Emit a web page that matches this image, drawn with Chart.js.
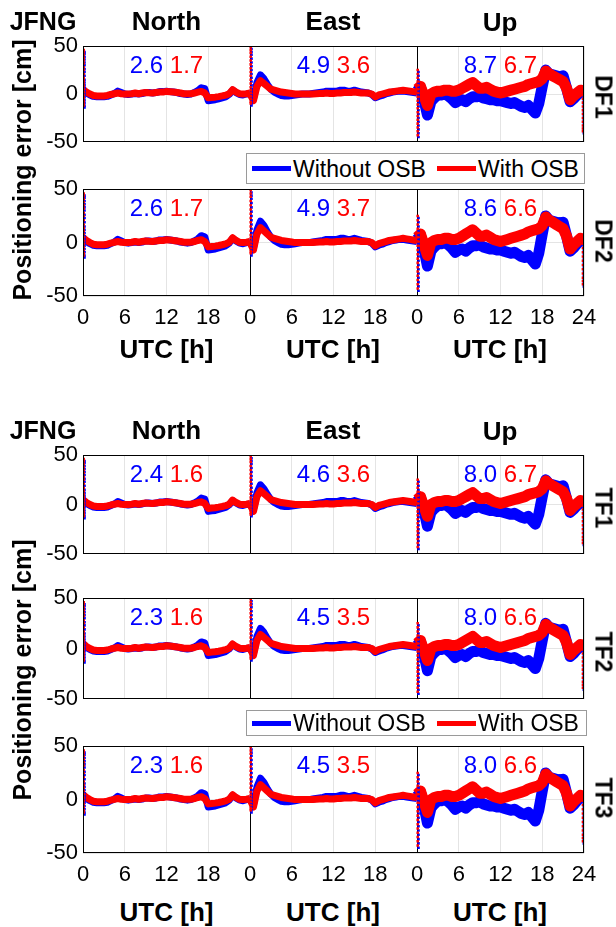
<!DOCTYPE html>
<html><head><meta charset="utf-8">
<script src="https://cdn.jsdelivr.net/npm/chart.js@4.4.1/dist/chart.umd.min.js"></script>
<style>
html,body{margin:0;padding:0;background:#fff;}
#fig{position:relative;width:616px;height:927px;overflow:hidden;font-family:"Liberation Sans",Arial,sans-serif;background:#fff;}
.t{position:absolute;transform:translate(-50%,-50%);white-space:nowrap;color:#000;line-height:1;}
.b{font-weight:bold;}
canvas{position:absolute;left:0;}
.legend{position:absolute;border:1px solid #9a9a9a;background:#fff;box-sizing:border-box;}
.legend .ln{position:absolute;height:5px;}
.legend .lt{position:absolute;font-size:23px;line-height:1;white-space:nowrap;transform:translateY(-50%);}
</style></head><body><div id="fig"></div>
<script>
// ---------------- data ----------------
const hours = [0,0.5,1,1.5,2,2.5,3,3.5,4,4.5,5,5.5,6,6.5,7,7.5,8,8.5,9,9.5,10,10.5,11,11.5,12,12.5,13,13.5,14,14.5,15,15.5,16,16.5,17,17.5,18,18.5,19,19.5,20,20.5,21,21.5,22,22.5,23,23.5,24];
const tickLabels = ['0','6','12','18','24'];
const components = ['North','East','Up'];
const rowNames = ['DF1','DF2','TF1','TF2','TF3'];

const northWithout = [3,1,-1,-2.5,-3,-3,-3,-2.5,-1,0.5,3,1.5,0,-0.5,0,0.5,0,0.5,1.5,1.5,1,1.5,2.5,2.5,3,2.5,2,1.5,0.5,0,-0.5,0,1.5,3.5,6.5,5.5,-7,-6.5,-6,-5,-4,-3,-0.5,4,1.5,-0.5,-1,0,0.5];
const northWith    = [5,2,0,-1.5,-2,-2,-2,-1.5,-0.5,0.3,1,0.3,0,0,0.3,1,0.3,1,1.5,1.2,1,1.5,2,2,2.7,2.4,2,1.5,1,0.3,0.3,0.3,1,2,2.7,1,-4,-3.6,-3.3,-2.7,-2,-1.2,0.3,4.5,2,0.3,0,0.3,1];
const eastWithout  = [0,-5,12,20,16,10,5,2,0,-1.5,-2,-2,-1.5,-1,-0.5,0,0,0,0.5,1,1.5,2,3,3,3,3,4,4,3,3,4,3,2,1.5,1,-0.5,-4,-2.5,-1.5,0,1,2,2.5,3,3,2.5,2,1.5,1];
const eastWith     = [0,-7,8,14,11,8,5,4,3,2,1.5,1,0.5,0,0,0,0,0,0,0.3,0.5,0.5,1,0.5,0.5,1,1,1.5,1.5,1.5,2,1.5,1,1,1,0,-3,-1,0,1,2,2.5,3,3.5,4,3.5,3,2.5,2];
const upWithout    = [3,7,-6,-22,-8,-4,-1,-1,0,-2,-5,-9,-7,-6,-8,-5,-3,-3,-2,-4,-5,-6,-6,-7,-7,-8,-9,-10,-9,-11,-13,-14,-12,-16,-20,-10,8,25,21,20,19,18,19,6,-8,-5,-1,2,1];
const upWith       = [5,8,-2,-12,0,2,3,3,4,4,3,3,4,6,8,10,12,9,6,6,7,5,3,2,1,2,3,4,5,6,7,8,10,11,12,13,16,24,21,19,17,15,13,6,-6,-2,1,4,3];

// outliers at the start of each day (and at the end of Up)
const spikeNorth   = [45,43,40,37,34,31,27,24,20,16,13,10,7,4,1,-2,-5,-8,-11,-13];
const spikeEast    = [48,45,42,38,34,30,26,22,18,14,10,6,3,0,-3,-6,-9,-11];
const spikeUpStart = [24,20,16,12,8,4,0,-4,-8,-12,-16,-20,-24,-28,-32,-36,-40,-44];
const spikeUpEnd   = [-2,-6,-10,-14,-18,-22,-26,-30,-34,-37,-40];

const rmsWithout = [[2.6,4.9,8.7],[2.6,4.9,8.6],[2.4,4.6,8.0],[2.3,4.5,8.0],[2.3,4.5,8.0]];
const rmsWith    = [[1.7,3.6,6.7],[1.7,3.7,6.6],[1.6,3.6,6.7],[1.6,3.5,6.6],[1.6,3.5,6.6]];

// ---------------- layout ----------------
const BLUE = '#0000ff', RED = '#ff0000';
const FONT = '"Liberation Sans", Arial, sans-serif';
const rows = [
  {top:42,  bottom:152, xlabels:false},
  {top:185, bottom:296, xlabels:true},
  {top:451, bottom:564, xlabels:false},
  {top:594, bottom:709, xlabels:false},
  {top:742, bottom:853, xlabels:true}
];
const fig = document.getElementById('fig');
function txt(s, x, y, size, bold, rot, color){
  const d = document.createElement('div');
  d.className = 't' + (bold ? ' b' : '');
  d.textContent = s;
  d.style.left = x + 'px'; d.style.top = y + 'px';
  d.style.fontSize = size + 'px';
  if (color) d.style.color = color;
  if (rot) d.style.transform = 'translate(-50%,-50%) rotate(' + rot + 'deg)';
  fig.appendChild(d);
}

const compSeries = [
  {without:northWithout, with:northWith, w:7, spikes:[{t:0.1, v:spikeNorth}]},
  {without:eastWithout,  with:eastWith,  w:7, spikes:[{t:0.1, v:spikeEast}]},
  {without:upWithout,    with:upWith,    w:11, spikes:[{t:0.1, v:spikeUpStart},{t:23.85, v:spikeUpEnd}]}
];

const boxPlugin = {
  id:'panelBox',
  beforeDatasetsDraw(chart){
    const ctx = chart.ctx, a = chart.chartArea, xs = chart.scales.x;
    ctx.save();
    ctx.strokeStyle = '#000'; ctx.lineWidth = 1;
    [24,48].forEach(v=>{
      const px = Math.round(xs.getPixelForValue(v)) + 0.5;
      ctx.beginPath(); ctx.moveTo(px, a.top); ctx.lineTo(px, a.bottom); ctx.stroke();
    });
    ctx.restore();
  },
  afterDatasetsDraw(chart, args, opts){
    const ctx = chart.ctx, a = chart.chartArea, xs = chart.scales.x;
    ctx.save();
    ctx.strokeStyle = '#000'; ctx.lineWidth = 1;
    ctx.strokeRect(Math.round(a.left)+0.5, Math.round(a.top)+0.5, Math.round(a.right-a.left)-1, Math.round(a.bottom-a.top)-1);
    // RMS numbers
    ctx.font = '24px ' + FONT;
    ctx.textBaseline = 'middle'; ctx.textAlign = 'left';
    for (let k=0;k<3;k++){
      const b = rmsWithout[opts.row][k].toFixed(1), r = rmsWith[opts.row][k].toFixed(1);
      const wb = ctx.measureText(b).width, ws = ctx.measureText(' ').width, wr = ctx.measureText(r).width;
      const cx = xs.getPixelForValue(12 + 24*k);
      const x0 = cx - (wb+ws+wr)/2, y = a.top + 20;
      ctx.fillStyle = BLUE; ctx.fillText(b, x0, y);
      ctx.fillStyle = RED;  ctx.fillText(r, x0+wb+ws, y);
    }
    ctx.restore();
  }
};

rows.forEach((r, ri)=>{
  const padTop = 14;
  const bottomExtra = r.xlabels ? 42 : 8;
  const plotH = r.bottom - r.top;
  const H = plotH + padTop + bottomExtra;
  const cv = document.createElement('canvas');
  cv.width = 616; cv.height = H;
  cv.style.top = (r.top - padTop) + 'px';
  cv.style.width = '616px'; cv.style.height = H + 'px';
  fig.appendChild(cv);

  const datasets = [];
  compSeries.forEach((c,k)=>{
    const off = 24*k;
    datasets.push({label:'Without OSB', showLine:true, data:hours.map((t,i)=>({x:t+off, y:c.without[i]})),
      borderColor:BLUE, backgroundColor:BLUE, borderWidth:c.w, pointRadius:0, borderJoinStyle:'round', order:6});
    datasets.push({label:'With OSB', showLine:true, data:hours.map((t,i)=>({x:t+off, y:c.with[i]})),
      borderColor:RED, backgroundColor:RED, borderWidth:c.w, pointRadius:0, borderJoinStyle:'round', order:5});
    c.spikes.forEach(s=>{
      datasets.push({data:s.v.map(v=>({x:s.t+off+0.12, y:v-1})), showLine:false, pointStyle:'rect',
        pointRadius:1.8, pointBorderWidth:0, backgroundColor:BLUE, order:4});
      datasets.push({data:s.v.map(v=>({x:s.t+off, y:v+1})), showLine:false, pointStyle:'rect',
        pointRadius:1.8, pointBorderWidth:0, backgroundColor:RED, order:3});
    });
  });

  new Chart(cv, {
    type:'scatter',
    data:{datasets},
    plugins:[boxPlugin],
    options:{
      responsive:false, animation:false, devicePixelRatio:1,
      layout:{padding:{top:padTop, right:32, left:0, bottom: r.xlabels ? 0 : bottomExtra}},
      plugins:{legend:{display:false}, tooltip:{enabled:false}, panelBox:{row:ri}},
      scales:{
        x:{type:'linear', min:0, max:72, border:{display:false},
           grid:{color:(c)=> (c.tick && (c.tick.value===24 || c.tick.value===48)) ? 'rgba(0,0,0,0)' : '#e4e4e4', lineWidth:1, drawTicks:false},
           ticks:{display:r.xlabels, stepSize:6, autoSkip:false, maxRotation:0, padding:9, color:'#000',
                  font:{family:FONT, size:22},
                  callback:(v)=> v===72 ? tickLabels[4] : tickLabels[(v%24)/6]},
           afterFit:(s)=>{ s.height = r.xlabels ? 42 : 0; }},
        y:{min:-50, max:50, border:{display:false},
           grid:{color:'#e4e4e4', lineWidth:1, drawTicks:false},
           ticks:{stepSize:50, padding:5, color:'#000', font:{family:FONT, size:22}, callback:(v)=>String(v)},
           afterFit:(s)=>{ s.width = 83; }}
      }
    }
  });

  // row label on the right
  txt(rowNames[ri], 603, (r.top + r.bottom)/2, 23, true, 90);
});

// titles
[21, 430].forEach(y=>{
  txt('JFNG', 43, y, 25, true);
  txt(components[0], 166.5, y, 26, true);
  txt(components[1], 333, y, 26, true);
  txt(components[2], 500, y+1, 26, true);
});
// x-axis titles
[349, 912].forEach(y=>{
  [166.5, 333, 500].forEach(x=> txt('UTC [h]', x, y, 26, true));
});
// y-axis titles
txt('Positioning error [cm]', 22, 170, 25, true, -90);
txt('Positioning error [cm]', 22, 670, 25, true, -90);

// legends
function legend(top, height, width){
  const L = document.createElement('div');
  L.className = 'legend';
  L.style.left = '246px'; L.style.top = top + 'px';
  L.style.width = width + 'px'; L.style.height = height + 'px';
  const cy = height/2 - 1;
  const items = [[BLUE,'Without OSB',5,46],[RED,'With OSB',190,231]];
  items.forEach(([col, s, lx, tx])=>{
    const ln = document.createElement('div'); ln.className='ln';
    ln.style.background = col; ln.style.left = lx+'px'; ln.style.width='39px'; ln.style.top = (cy-2.5)+'px';
    L.appendChild(ln);
    const t = document.createElement('div'); t.className='lt'; t.textContent = s;
    t.style.left = tx+'px'; t.style.top = cy+'px';
    L.appendChild(t);
  });
  fig.appendChild(L);
}
legend(153, 31, 339);
legend(710, 26, 341);
</script>
</body></html>
